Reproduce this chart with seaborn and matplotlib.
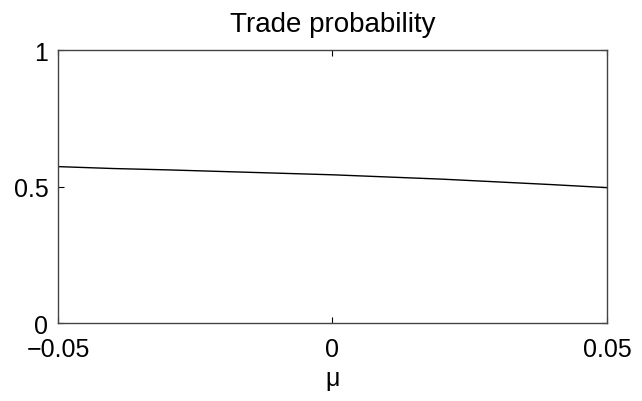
import matplotlib
matplotlib.use("Agg")
import matplotlib.pyplot as plt
import seaborn as sns
import pandas as pd

mu = [-0.05, -0.04, -0.03, -0.02, -0.01, 0.0, 0.01, 0.02, 0.03, 0.04, 0.05]
trade_prob = [0.573, 0.566, 0.561, 0.555, 0.549, 0.543, 0.535, 0.527, 0.517, 0.507, 0.496]
xticks = [-0.05, 0, 0.05]
xticklabels = ["\u22120.05", "0", "0.05"]
yticks = [0, 0.5, 1]
yticklabels = ["0", "0.5", "1"]

sns.set_style("ticks")
plt.rcParams["font.family"] = ["Liberation Sans", "DejaVu Sans"]
plt.rcParams["text.color"] = "black"

df = pd.DataFrame({"mu": mu, "p": trade_prob})

fig = plt.figure(figsize=(6.42, 4.02), dpi=100)
ax = fig.add_axes([0.0903, 0.194, 0.8552, 0.679])
sns.lineplot(data=df, x="mu", y="p", ax=ax, color="black", linewidth=1.0)

ax.set_xlim(-0.05, 0.05)
ax.set_ylim(0, 1)
ax.set_xticks(xticks)
ax.set_xticklabels(xticklabels)
ax.set_yticks(yticks)
ax.set_yticklabels(yticklabels)
ax.tick_params(direction="in", length=4, width=0.8, labelsize=18, colors="black",
               top=True, right=True)
ax.tick_params(axis="x", pad=10)
ax.tick_params(axis="y", pad=7)
for s in ax.spines.values():
    s.set_visible(True)
    s.set_color("#444444")
    s.set_linewidth(1.0)
ax.set_title("Trade probability", fontsize=20, pad=14, color="black")
ax.set_xlabel("\u03bc", fontsize=18, labelpad=4, color="black")
ax.set_ylabel("")
fig.savefig("out.png", dpi=100)
